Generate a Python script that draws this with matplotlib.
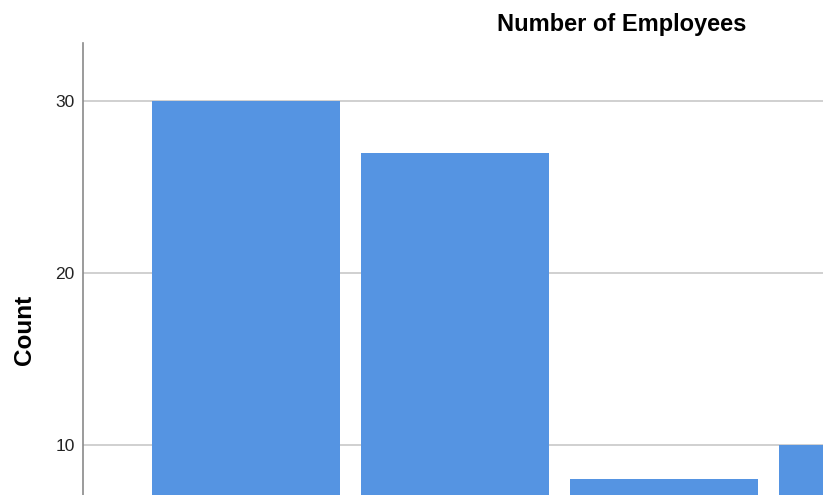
import matplotlib.pyplot as plt
import numpy as np

plt.rcParams['font.family'] = ['Liberation Sans', 'DejaVu Sans']

# data (category names are cut off in the reference)
categories = ['A', 'B', 'C', 'D']
counts = [30, 27, 8, 10]
yticks = [10, 20, 30]

fig = plt.figure(figsize=(8.23, 4.95), dpi=100)
# axes runs past the right and bottom edge, like the cropped reference
ax = fig.add_axes([83 / 823, 0.0, 1 - 83 / 823, (495 - 43) / 495])

x = np.arange(len(categories))
ax.bar(x, counts, width=0.9, color='#5594e2', zorder=2)

ax.set_xlim(-0.78, 2.761)
ax.set_ylim(7.09, 33.37)
ax.set_yticks(yticks)
ax.set_xticks([])
ax.grid(axis='y', color='#c8c8c8', linewidth=1.2, zorder=1)

for s in ['top', 'right', 'bottom']:
    ax.spines[s].set_visible(False)
ax.spines['left'].set_color('#8a8a8a')
ax.spines['left'].set_linewidth(1.2)
ax.tick_params(axis='y', length=0, pad=6, labelsize=12.5, labelcolor='#222222')

fig.text(24 / 823, 1 - 330 / 495, 'Count', fontsize=17.5, fontweight='bold',
         rotation=90, ha='center', va='center')
fig.text(622 / 823, 1 - 24 / 495, 'Number of Employees', fontsize=17,
         fontweight='bold', ha='center', va='center')

fig.savefig('out.png', dpi=100)
